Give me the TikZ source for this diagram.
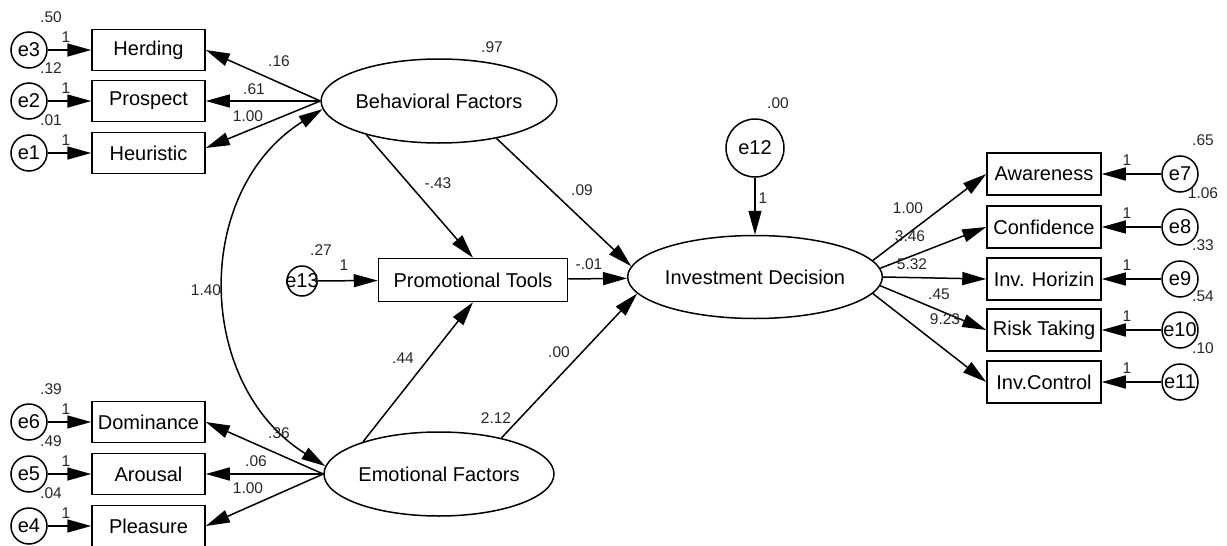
\documentclass[tikz,border=0pt]{standalone}
\usepackage{fontspec}
\setmainfont{Liberation Sans}
\usetikzlibrary{arrows.meta,shapes.geometric}

\tikzset{
  obs/.style={draw, line width=1.5pt, minimum width=113pt, minimum height=41pt,
    inner sep=0pt, font=\fontsize{20}{22}\selectfont},
  lat/.style={draw, ellipse, line width=1.5pt, minimum width=230pt, minimum height=84pt,
    inner sep=0pt, font=\fontsize{20}{22}\selectfont},
  err/.style={draw, circle, line width=1.5pt, minimum size=36pt, inner sep=0pt,
    font=\fontsize{20}{22}\selectfont},
  coef/.style={inner sep=0pt, text=black!85, font=\fontsize{15.5}{17}\selectfont},
  arr/.style={line width=1.5pt, -{Triangle[length=24pt,width=13pt]}},
  cov/.style={line width=1.5pt, {Triangle[length=24pt,width=13pt]}-{Triangle[length=24pt,width=13pt]}}
}

\begin{document}
\begin{tikzpicture}[x=1pt, y=-1pt]
    \useasboundingbox (0,0) rectangle (1227,546);

    % latent factors and mediator
    \node[lat] (bf) at (439,101) {Behavioral Factors};
    \node[lat] (ef) at (439,474) {Emotional Factors};
    \node[lat, minimum width=226pt, minimum height=83pt] (id) at (755,277) {Investment Decision};
    \node[obs, minimum width=189pt, minimum height=43pt] (pt) at (473,280) {Promotional Tools};
    \node[err, minimum size=30pt] (e13) at (302,281) {\makebox[0pt]{e13}};
    \node[err, minimum size=58pt] (e12) at (755,148) {e12};

    % left indicators
    \foreach \nm/\boxtxt/\yy/\en/\var in {herd/Herding/50/e3/.50, pros/Prospect/101/e2/.12,
        heur/Heuristic/153/e1/.01, dom/Dominance/422/e6/.39, arou/Arousal/474/e5/.49,
        plea/Pleasure/526/e4/.04} {
      \node[obs] (\nm) at (148.5,\yy) {\boxtxt};
      \node[err] (\en) at (29,\yy) {\en};
      \node[coef] (v\en) at (51,\yy-33) {\var};
      \node[coef] (w\en) at (66,\yy-13) {1};
      \draw[arr] (\en) -- (\nm);
    }

    % right indicators
    \foreach \nm/\boxtxt/\yy/\en/\var in {aw/Awareness/174/e7/.65, conf/Confidence/227/e8/1.06,
        hor/Inv. Horizin/279/e9/.33, risk/Risk Taking/330/e10/.54, ctrl/Inv.Control/382/e11/.10} {
      \node[obs, minimum width=114pt, minimum height=42pt] (\nm) at (1044,\yy) {\boxtxt};
      \node[err] (\en) at (1180,\yy) {\makebox[0pt]{\en}};
      \node[coef] (v\en) at (1203,\yy-34) {\var};
      \node[coef] (w\en) at (1127,\yy-14) {1};
      \draw[arr] (\en) -- (\nm);
    }

    % loadings
    \draw[arr] (bf.west) -- (herd.east);
    \draw[arr] (bf.west) -- (pros.east);
    \draw[arr] (bf.west) -- (heur.5);
    \draw[arr] (ef.west) -- (dom.east);
    \draw[arr] (ef.west) -- (arou.east);
    \draw[arr] (ef.west) -- (plea.east);
    \draw[arr] (id.8) -- (aw.west);
    \draw[arr] (id.4) -- (conf.west);
    \draw[arr] (id.0) -- (hor.west);
    \draw[arr] (id.-4) -- (risk.west);
    \draw[arr] (id.-8) -- (ctrl.west);

    % structural paths
    \draw[arr] (bf.205) -- (pt.north);
    \draw[arr] (bf.-33) -- (id.175);
    \draw[arr] (ef.157) -- (pt.south);
    \draw[arr] (ef.30) -- (id.188);
    \draw[arr] (pt) -- (id);
    \draw[arr] (e13) -- (pt);
    \draw[arr] (e12) -- (id);
    \draw[cov] (bf.184) to[out=212, in=148, looseness=1.1] (ef.176);

    % estimates
    \node[coef] (c1) at (279,61) {.16};
    \node[coef] (c2) at (254,89) {.61};
    \node[coef] (c3) at (248,116) {1.00};
    \node[coef] (c4) at (279,433) {.36};
    \node[coef] (c5) at (256,461) {.06};
    \node[coef] (c6) at (248,488) {1.00};
    \node[coef] (c7) at (492,47) {.97};
    \node[coef] (c8) at (496,418) {2.12};
    \node[coef] (c9) at (438,183) {-.43};
    \node[coef] (c10) at (582,190) {.09};
    \node[coef] (c11) at (403,358) {.44};
    \node[coef] (c12) at (559,352) {.00};
    \node[coef] (c13) at (589,264) {-.01};
    \node[coef] (c14) at (321,250) {.27};
    \node[coef] (c15) at (344,265) {1};
    \node[coef] (c16) at (206,290) {1.40};
    \node[coef] (c17) at (778,103) {.00};
    \node[coef] (c18) at (763,198) {1};
    \node[coef] (c19) at (908,208) {1.00};
    \node[coef] (c20) at (910,236) {3.46};
    \node[coef] (c21) at (912,264) {5.32};
    \node[coef] (c22) at (939,294) {.45};
    \node[coef] (c23) at (945,319) {9.23};
\end{tikzpicture}
\end{document}
